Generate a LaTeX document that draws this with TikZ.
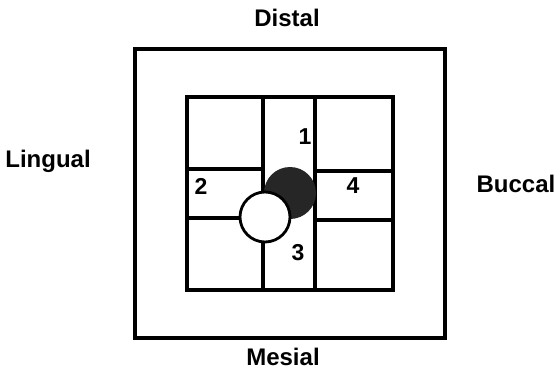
\documentclass[tikz,border=0pt]{standalone}
\usepackage{fontspec}
\setmainfont{Liberation Sans}
\usepackage{tikz}

\begin{document}
\begin{tikzpicture}[
    x={(0.5pt,0)}, y={(0,-0.5pt)},
    frame/.style={draw, line width=1.7pt},
    gridline/.style={draw, line width=1.6pt},
    side/.style={font=\fontsize{12}{14}\selectfont\bfseries, inner sep=0pt},
    num/.style={font=\fontsize{11.5}{14}\selectfont\bfseries, inner sep=0pt}
]
    \useasboundingbox (0,0) rectangle (557,375);

    % Outer frame and inner grid
    \draw[frame] (135,49) rectangle (445,338);
    \draw[gridline] (187,97) rectangle (393,290);
    \draw[gridline] (263,97) -- (263,290);
    \draw[gridline] (315,97) -- (315,290);
    \draw[gridline] (187,169) -- (263,169);
    \draw[gridline] (187,218) -- (263,218);
    \draw[gridline] (315,171) -- (393,171);
    \draw[gridline] (315,220) -- (393,220);

    % Contacts
    \fill[black!85] (290,193) circle[radius=13pt];
    \draw[line width=1.4pt, fill=white] (265,217) circle[radius=12.5pt];

    % Sides
    \node[side] (distal) at (287,18) {Distal};
    \node[side] (mesial) at (283,357) {Mesial};
    \node[side] (lingual) at (48,161) {Lingual};
    \node[side] (buccal) at (516,184) {Buccal};

    % Areas
    \node[num] (one) at (305,137) {1};
    \node[num] (two) at (201,186) {2};
    \node[num] (three) at (298,253) {3};
    \node[num] (four) at (353,186) {4};
\end{tikzpicture}
\end{document}
